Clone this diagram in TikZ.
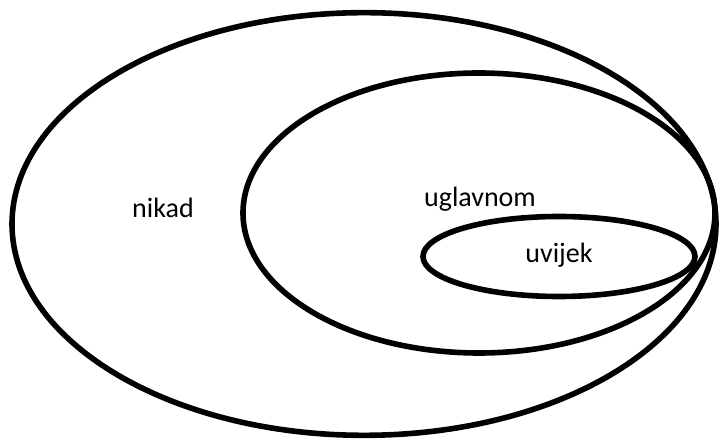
\documentclass[tikz,border=0pt]{standalone}
\usepackage{fontspec}
\setmainfont{Carlito}
\usetikzlibrary{shapes.geometric}
\tikzstyle{ring}=[ellipse,draw=black,line width=4.2pt,inner sep=0pt]
\tikzstyle{lbl}=[anchor=base,inner sep=0pt,font=\fontsize{21}{25}\selectfont]
\begin{document}
\begin{tikzpicture}[x=0.75pt,y=-0.75pt]
        \useasboundingbox (0,0) rectangle (719,441);
        \node[style=ring,minimum width=528pt,minimum height=317pt] (0) at (364,224) {};
        \node[style=ring,minimum width=354pt,minimum height=210pt] (1) at (479,213) {};
        \node[style=ring,minimum width=204pt,minimum height=60pt] (2) at (559,256.5) {};
        \node[style=lbl] (3) at (163,218) {nikad};
        \node[style=lbl] (4) at (480,207) {uglavnom};
        \node[style=lbl] (5) at (559,263) {uvijek};
    \end{tikzpicture}
\end{document}
